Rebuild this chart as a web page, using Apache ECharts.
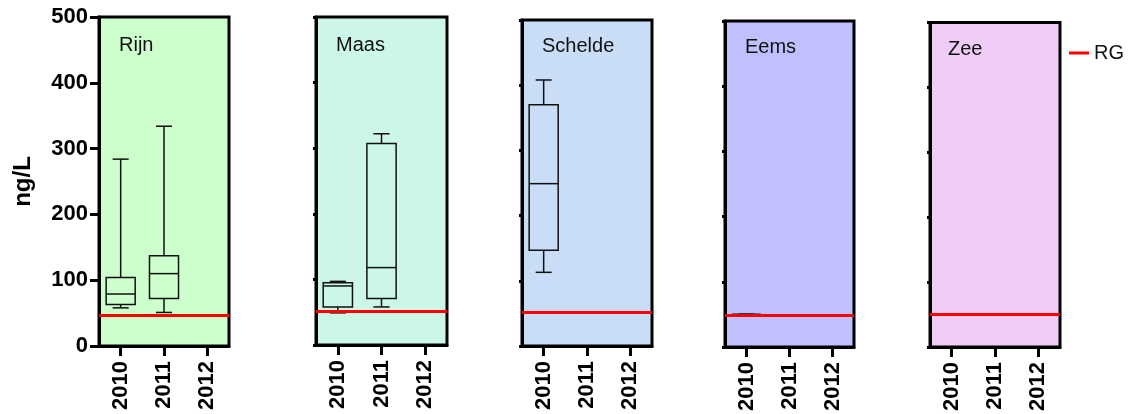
<!DOCTYPE html>
<html>
<head>
<meta charset="utf-8">
<script src="https://cdn.jsdelivr.net/npm/echarts@6/dist/echarts.min.js"></script>
<style>
html,body{margin:0;padding:0;background:#fff;}
#chart{width:1142px;height:414px;}
</style>
</head>
<body>
<div id="chart"></div>
<script>
// ---- data ----
var years = ['2010', '2011', '2012'];
var panelNames = ['Rijn', 'Maas', 'Schelde', 'Eems', 'Zee'];
var yTicks = [0, 100, 200, 300, 400, 500];
// box rows: [yearIndex, min, q1, median, q3, max]
var rijnBoxes = [[0, 58, 63, 79, 104, 284], [1, 51, 72, 110, 137, 334]];
var maasBoxes = [[0, 49, 58, 90, 95, 97], [1, 58, 71, 118, 307, 322]];
var scheldeBoxes = [[0, 113, 147, 249, 370, 408]];
var eemsBoxes = [[0, 50, 50, 50, 50, 50]];
var zeeBoxes = [];
var rgValues = [46, 52, 52, 48, 50];
var legendName = 'RG';
var yAxisName = 'ng/L';

// ---- layout / style ----
var boxesByPanel = [rijnBoxes, maasBoxes, scheldeBoxes, eemsBoxes, zeeBoxes];
var gridPos = [
  {left: 99, width: 130, top: 17, bottom: 68},
  {left: 316, width: 131, top: 17, bottom: 69},
  {left: 522, width: 130, top: 20, bottom: 68},
  {left: 725, width: 129, top: 21, bottom: 67},
  {left: 930, width: 130, top: 22.5, bottom: 67}
];
var bgColors = ['#ccffcc', '#ccf6e6', '#c9ddf6', '#c0c0ff', '#eeccf6'];
var titlePos = [[119, 35], [336, 35], [542, 36], [745, 37], [948, 39]];
var FONT = "'Liberation Sans', Arial, sans-serif";

function renderBox(params, api) {
  var x = api.value(0);
  var band = api.size([1, 0])[0];
  var bw = band * 0.67, cw = band * 0.37;
  var pMin = api.coord([x, api.value(1)]);
  var pQ1 = api.coord([x, api.value(2)]);
  var pMed = api.coord([x, api.value(3)]);
  var pQ3 = api.coord([x, api.value(4)]);
  var pMax = api.coord([x, api.value(5)]);
  var cx = pMed[0];
  var st = {stroke: '#111', lineWidth: 1.5, fill: null};
  return {
    type: 'group',
    children: [
      {type: 'line', shape: {x1: cx, y1: pMax[1], x2: cx, y2: pQ3[1]}, style: st},
      {type: 'line', shape: {x1: cx, y1: pQ1[1], x2: cx, y2: pMin[1]}, style: st},
      {type: 'line', shape: {x1: cx - cw / 2, y1: pMax[1], x2: cx + cw / 2, y2: pMax[1]}, style: st},
      {type: 'line', shape: {x1: cx - cw / 2, y1: pMin[1], x2: cx + cw / 2, y2: pMin[1]}, style: st},
      {type: 'rect', shape: {x: cx - bw / 2, y: pQ3[1], width: bw, height: pQ1[1] - pQ3[1]}, style: st},
      {type: 'line', shape: {x1: cx - bw / 2, y1: pMed[1], x2: cx + bw / 2, y2: pMed[1]}, style: st}
    ]
  };
}

var grids = [], xAxes = [], yAxes = [], series = [], titles = [];
panelNames.forEach(function (name, i) {
  grids.push({
    left: gridPos[i].left, width: gridPos[i].width, top: gridPos[i].top, bottom: gridPos[i].bottom,
    show: true, backgroundColor: bgColors[i], borderColor: '#000', borderWidth: 3,
    containLabel: false
  });
  xAxes.push({
    type: 'category', gridIndex: i, data: years, boundaryGap: true,
    axisLine: {show: true, lineStyle: {color: '#000', width: 3}},
    axisTick: {show: true, alignWithLabel: true, length: 10, lineStyle: {color: '#000', width: 3}},
    axisLabel: {rotate: 90, margin: 15, fontSize: 22, fontWeight: 'bold', color: '#000', fontFamily: FONT},
    splitLine: {show: false}
  });
  yAxes.push({
    type: 'value', gridIndex: i, min: yTicks[0], max: yTicks[yTicks.length - 1],
    interval: yTicks[1] - yTicks[0],
    name: i === 0 ? yAxisName : '',
    nameLocation: 'middle', nameGap: 64, nameRotate: 90,
    nameTextStyle: {fontSize: 24, fontWeight: 'bold', color: '#000', fontFamily: FONT},
    axisLine: {show: true, lineStyle: {color: '#000', width: 3}},
    axisTick: {show: true, length: i === 0 ? 9 : 3, lineStyle: {color: '#000', width: 3}},
    axisLabel: {show: i === 0, margin: 11, fontSize: 22, fontWeight: 'bold', color: '#000', fontFamily: FONT},
    splitLine: {show: false}
  });
  series.push({
    type: 'custom', name: name, xAxisIndex: i, yAxisIndex: i,
    renderItem: renderBox,
    encode: {x: 0, y: [1, 2, 3, 4, 5]},
    data: boxesByPanel[i], silent: true, z: 3
  });
  series.push({
    type: 'line', name: legendName, xAxisIndex: i, yAxisIndex: i,
    data: [], color: '#ff0000', lineStyle: {width: 3, color: '#ff0000'}, showSymbol: false,
    markLine: {
      silent: true, symbol: 'none', label: {show: false},
      lineStyle: {color: '#ff0000', width: 3, type: 'solid'},
      emphasis: {disabled: true},
      data: [{yAxis: rgValues[i]}]
    },
    z: 4
  });
  titles.push({
    text: name, left: titlePos[i][0], top: titlePos[i][1], padding: 0,
    textStyle: {fontSize: 20, fontWeight: 'normal', color: '#111', fontFamily: FONT}
  });
});

var chart = echarts.init(document.getElementById('chart'), null, {renderer: 'canvas'});
chart.setOption({
  animation: false,
  backgroundColor: '#fff',
  title: titles,
  legend: {
    data: [{name: legendName, icon: 'rect', itemStyle: {color: '#ff0000'}}],
    left: 1069, top: 43, itemWidth: 20, itemHeight: 3, padding: 0,
    textStyle: {fontSize: 20, color: '#111', fontFamily: FONT},
    selectedMode: false
  },
  grid: grids,
  xAxis: xAxes,
  yAxis: yAxes,
  series: series
});
</script>
</body>
</html>
